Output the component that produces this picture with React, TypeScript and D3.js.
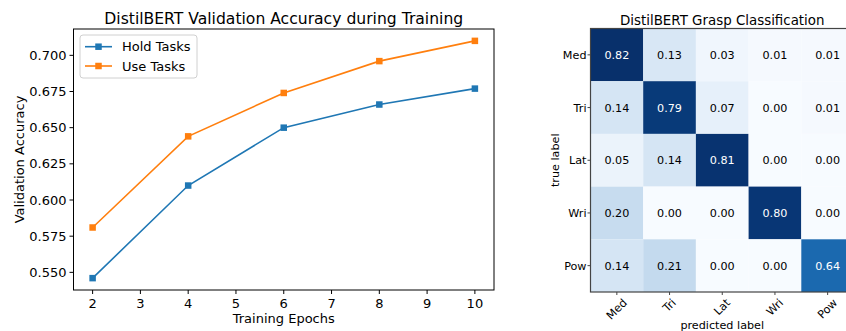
import * as d3 from "d3";

const epochs = [2, 4, 6, 8, 10];
const holdAcc = [0.546, 0.61, 0.65, 0.666, 0.677];
const useAcc = [0.581, 0.644, 0.674, 0.696, 0.71];
const xTicks = [2, 3, 4, 5, 6, 7, 8, 9, 10];
const yTicks = [0.55, 0.575, 0.6, 0.625, 0.65, 0.675, 0.7];

const grasps = ["Med", "Tri", "Lat", "Wri", "Pow"];
const confusion = [
  [0.82, 0.13, 0.03, 0.01, 0.01],
  [0.14, 0.79, 0.07, 0.0, 0.01],
  [0.05, 0.14, 0.81, 0.0, 0.0],
  [0.2, 0.0, 0.0, 0.8, 0.0],
  [0.14, 0.21, 0.0, 0.0, 0.64],
];

const FONT = "DejaVu Sans, sans-serif";
const blue = "#1f77b4";
const orange = "#ff7f0e";

// left plot box
const L = { left: 73.5, right: 494, top: 29, bottom: 290 };
// heatmap box (runs off the right edge like the original)
const H = { left: 590.5, top: 28.5, cell: 52.7 };

function measure(text: string, size: number) {
  const c = document.createElement("canvas").getContext("2d");
  if (!c) return text.length * size * 0.6;
  c.font = `${size}px DejaVu Sans`;
  return c.measureText(text).width;
}

function LinePlot() {
  const x = d3.scaleLinear().domain([1.6, 10.4]).range([L.left, L.right]);
  const lo = 0.546, hi = 0.71, m = (hi - lo) * 0.05;
  const y = d3.scaleLinear().domain([lo - m, hi + m]).range([L.bottom, L.top]);
  const line = d3.line<number>().x((_, i) => x(epochs[i])).y((d) => y(d));
  const series = [
    { name: "Hold Tasks", vals: holdAcc, color: blue },
    { name: "Use Tasks", vals: useAcc, color: orange },
  ];
  const ms = 6.5;
  return (
    <g fontFamily={FONT}>
      <text x={(L.left + L.right) / 2} y={24} fontSize={15.6} textAnchor="middle">
        DistilBERT Validation Accuracy during Training
      </text>
      {series.map((s) => (
        <g key={s.name}>
          <path d={line(s.vals) || ""} fill="none" stroke={s.color} strokeWidth={1.6} />
          {s.vals.map((v, i) => (
            <rect key={i} x={x(epochs[i]) - ms / 2} y={y(v) - ms / 2} width={ms} height={ms} fill={s.color} />
          ))}
        </g>
      ))}
      <rect x={L.left} y={L.top} width={L.right - L.left} height={L.bottom - L.top} fill="none" stroke="#000" strokeWidth={1} />
      {xTicks.map((t) => (
        <g key={t} transform={`translate(${x(t)},${L.bottom})`}>
          <line y2={4} stroke="#000" />
          <text y={17.5} fontSize={13} textAnchor="middle">{t}</text>
        </g>
      ))}
      {yTicks.map((t) => (
        <g key={t} transform={`translate(${L.left},${y(t)})`}>
          <line x2={-4} stroke="#000" />
          <text x={-7} y={4.6} fontSize={13} textAnchor="end">{d3.format(".3f")(t)}</text>
        </g>
      ))}
      <text x={(L.left + L.right) / 2} y={322.5} fontSize={13} textAnchor="middle">Training Epochs</text>
      <text transform={`translate(23.5,${(L.top + L.bottom) / 2}) rotate(-90)`} fontSize={13} textAnchor="middle">
        Validation Accuracy
      </text>
      <rect x={80} y={35} width={117} height={43} rx={3} fill="#fff" fillOpacity={0.8} stroke="#d0d0d0" strokeWidth={1} />
      {series.map((s, i) => {
        const cy = 46.7 + i * 19.3;
        return (
          <g key={s.name}>
            <line x1={85} x2={112} y1={cy} y2={cy} stroke={s.color} strokeWidth={1.6} />
            <rect x={98.5 - ms / 2} y={cy - ms / 2} width={ms} height={ms} fill={s.color} />
            <text x={122} y={cy + 4.6} fontSize={13}>{s.name}</text>
          </g>
        );
      })}
    </g>
  );
}

function Heatmap() {
  const n = grasps.length;
  const xb = d3.scaleBand().domain(grasps).range([H.left, H.left + n * H.cell]);
  const yb = d3.scaleBand().domain(grasps).range([H.top, H.top + n * H.cell]);
  const maxV = d3.max(confusion.flat()) || 1;
  const color = d3
    .scaleLinear<string>()
    .domain(d3.range(9).map((i) => (i / 8) * maxV))
    .range(d3.schemeBlues[9])
    .interpolate(d3.interpolateRgb);
  const bottom = H.top + n * H.cell;
  const fs = 11.2;
  return (
    <g fontFamily={FONT}>
      <text x={H.left + (n * H.cell) / 2} y={25} fontSize={13.4} textAnchor="middle">
        DistilBERT Grasp Classification
      </text>
      {confusion.map((row, r) =>
        row.map((v, c) => (
          <g key={`${r}-${c}`}>
            <rect x={xb(grasps[c])} y={yb(grasps[r])} width={xb.bandwidth()} height={yb.bandwidth()} fill={color(v)} />
            <text
              x={(xb(grasps[c]) || 0) + xb.bandwidth() / 2}
              y={(yb(grasps[r]) || 0) + yb.bandwidth() / 2 + 4}
              fontSize={fs}
              textAnchor="middle"
              fill={v > maxV / 2 ? "#fff" : "#000"}
            >
              {v.toFixed(2)}
            </text>
          </g>
        ))
      )}
      <rect x={H.left} y={H.top} width={n * H.cell} height={n * H.cell} fill="none" stroke="#444" strokeWidth={1.2} />
      {grasps.map((g) => {
        const cy = (yb(g) || 0) + yb.bandwidth() / 2;
        return (
          <g key={`y${g}`} transform={`translate(${H.left},${cy})`}>
            <line x2={-3} stroke="#444" />
            <text x={-4} y={4} fontSize={fs} textAnchor="end">{g}</text>
          </g>
        );
      })}
      {grasps.map((g) => {
        const cx = (xb(g) || 0) + xb.bandwidth() / 2;
        const w = measure(g, fs);
        const bh = (w + fs * 1.0) * Math.SQRT1_2;
        const cy = bottom + 5 + bh / 2;
        return (
          <g key={`x${g}`}>
            <line x1={cx} x2={cx} y1={bottom} y2={bottom + 3} stroke="#444" />
            <text
              transform={`translate(${cx},${cy}) rotate(-45)`}
              fontSize={fs}
              textAnchor="middle"
              dominantBaseline="central"
            >
              {g}
            </text>
          </g>
        );
      })}
      <text x={H.left + (n * H.cell) / 2} y={328.5} fontSize={fs} textAnchor="middle">predicted label</text>
      <text transform={`translate(558.5,${H.top + (n * H.cell) / 2}) rotate(-90)`} fontSize={fs} textAnchor="middle">
        true label
      </text>
    </g>
  );
}

export default function App() {
  return (
    <svg
      width={846}
      height={331}
      style={{ position: "absolute", left: 0, top: 0, background: "#fff" }}
    >
      <rect width={846} height={331} fill="#fff" />
      <LinePlot />
      <Heatmap />
    </svg>
  );
}
